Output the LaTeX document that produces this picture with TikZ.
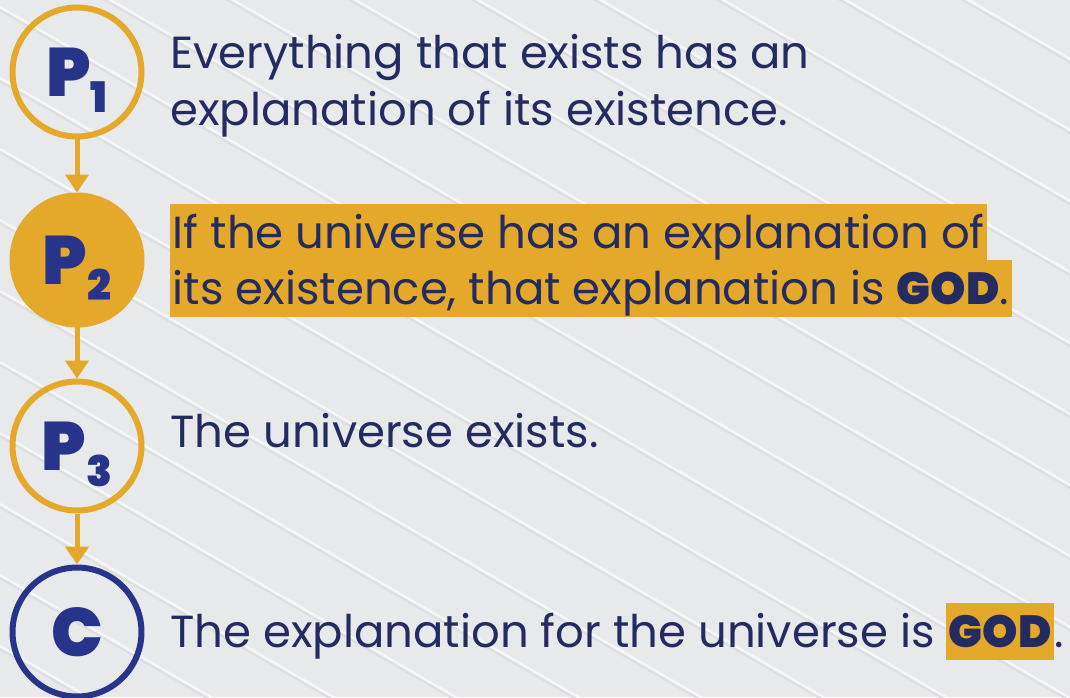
\documentclass[tikz,border=0pt]{standalone}
\usepackage{fontspec}
\setmainfont{Poppins}
\newfontfamily\heavyfont{Poppins Black}
\usetikzlibrary{arrows.meta,positioning}
\definecolor{argGold}{RGB}{228,169,42}
\definecolor{argNavy}{RGB}{35,43,96}
\definecolor{argBlue}{RGB}{40,52,138}
\definecolor{argBg}{RGB}{232,233,235}
\definecolor{argLine}{RGB}{222,223,226}
\newcommand{\premsub}[1]{\raisebox{-0.32cm}[0pt][0pt]{\fontsize{24}{24}\selectfont #1}}

\begin{document}
\begin{tikzpicture}[x=0.02cm,y=-0.02cm]
  \tikzset{prem/.style={circle,draw=#1,line width=0.12cm,minimum size=2.58cm,inner sep=0pt,text=argBlue,font=\fontsize{39}{39}\selectfont\heavyfont},
    claim/.style={anchor=base west,inner sep=0pt,text=argNavy,font=\fontsize{25.6}{30}\selectfont},
    hl/.style={claim,fill=argGold,inner xsep=0.05cm,text height=0.88cm,text depth=0.26cm}}
  \useasboundingbox (0,0) rectangle (1070,697);
  \fill[argBg] (0,0) rectangle (1070,697);
  \begin{scope}
    \clip (0,0) rectangle (1070,697);
    \foreach \y in {-700,-629,...,700} {
      \draw[argLine,line width=0.05cm] (0,\y) -- (1070,\y+620);
      \draw[white,opacity=0.6,line width=0.05cm] (0,\y-3) -- (1070,\y+617);
    }
  \end{scope}
  \node[prem=argGold] (p1) at (77,72) {P\premsub{1}};
  \node[prem=argGold,fill=argGold] (p2) at (77,260) {P\premsub{2}};
  \node[prem=argGold] (p3) at (77,446) {P\premsub{3}};
  \node[prem=argBlue] (c) at (77,632) {C};
  \foreach \a/\b in {p1/p2,p2/p3,p3/c} {
    \draw[-{Triangle[width=0.46cm,length=0.36cm]},line width=0.1cm,argGold] (\a) -- (\b);
  }
  \node[claim] (t1a) at (170,68) {Everything that exists has an};
  \node[claim] (t1b) at (170,125) {explanation of its existence.};
  \node[hl] (t2a) at (170,248) {If the universe has an explanation of~};
  \node[hl] (t2b) at (170,304) {its existence, that explanation is {\heavyfont GOD}.};
  \node[claim] (t3) at (170,447) {The universe exists.};
  \node[claim] (t4a) at (170,647) {The explanation for the universe is};
  \node[hl,font=\fontsize{25.6}{30}\selectfont\heavyfont] (t4b) at ([xshift=0.22cm]t4a.base east) {GOD};
  \node[claim] (t4c) at (t4b.base east) {.};
\end{tikzpicture}
\end{document}
